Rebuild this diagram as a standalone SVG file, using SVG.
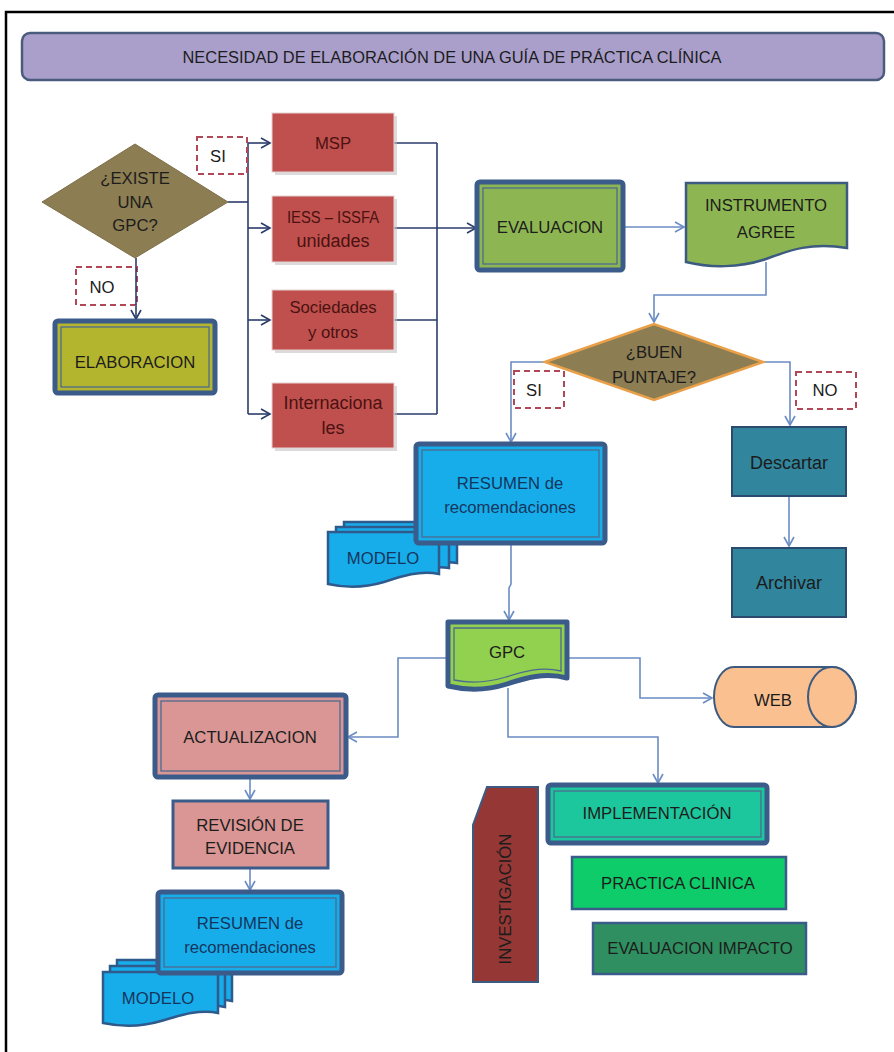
<svg xmlns="http://www.w3.org/2000/svg" width="894" height="1052" viewBox="0 0 894 1052">
<defs>
<style>
text{font-family:"Liberation Sans",Arial,sans-serif;font-size:16.7px;text-anchor:middle;fill:#1c1c1c}
.lc{font-size:18px}
.outer{stroke:#3b5b8b;stroke-width:5;stroke-linejoin:round}
.inner{fill:none;stroke:#4d6a8e;stroke-width:1.3}
.red{fill:#c0504d;stroke:#e8d2d2;stroke-width:1}
.redt{fill:#4a1212}
.shadow{fill:#bdbdbd;opacity:.55}
.dash{fill:#fff;stroke:#b04858;stroke-width:2;stroke-dasharray:6 4}
.navy{fill:none;stroke:#2b3d6b;stroke-width:1.6}
.lb{fill:none;stroke:#6b8cc4;stroke-width:1.6}
.blue{fill:#17adeb}
.bluet{fill:#15365c}
.doc{stroke:#2f5a8c;stroke-width:2.5}
</style>
<marker id="an" markerUnits="userSpaceOnUse" markerWidth="12" markerHeight="12" refX="10" refY="6" orient="auto"><path d="M1,1 L10,6 L1,11" fill="none" stroke="#2b3d6b" stroke-width="1.6"/></marker>
<marker id="al" markerUnits="userSpaceOnUse" markerWidth="12" markerHeight="12" refX="10" refY="6" orient="auto"><path d="M1,1 L10,6 L1,11" fill="none" stroke="#6b8cc4" stroke-width="1.6"/></marker>
</defs>
<rect x="0" y="0" width="894" height="1052" fill="#fff"/>
<path d="M6,1052 V12 H894" fill="none" stroke="#000" stroke-width="2.5"/>

<g id="title">
<rect x="22" y="33" width="862" height="47" rx="8" fill="#aa9fcb" stroke="#4b5b7d" stroke-width="2.5"/>
<text x="452" y="63" font-size="16.3" textLength="539" lengthAdjust="spacingAndGlyphs">NECESIDAD DE ELABORACIÓN DE UNA GUÍA DE PRÁCTICA CLÍNICA</text>
</g>

<g id="connectors">
<path class="navy" d="M228,202 H248"/>
<path class="navy" d="M248,143 V414"/>
<path class="navy" d="M248,143 H270" marker-end="url(#an)"/>
<path class="navy" d="M248,228 H270" marker-end="url(#an)"/>
<path class="navy" d="M248,320 H270" marker-end="url(#an)"/>
<path class="navy" d="M248,414 H270" marker-end="url(#an)"/>
<path class="navy" d="M136,258 V319" marker-end="url(#an)"/>
<path class="navy" d="M394,143 H437 M394,228 H437 M394,320 H437 M394,414 H437 M437,143 V414"/>
<path class="navy" d="M437,228 H476" stroke-width="2.4" marker-end="url(#an)"/>
<path class="lb" d="M623,227 H684" marker-end="url(#al)"/>
<path class="lb" d="M766,262 V295 H654 V322" marker-end="url(#al)"/>
<path class="lb" d="M545,362 H511 V442" marker-end="url(#al)"/>
<path class="lb" d="M763,362 H790 V425" marker-end="url(#al)"/>
<path class="lb" d="M789,496 V546" marker-end="url(#al)"/>
<path class="lb" d="M511,543 V584 L509,588 V620" marker-end="url(#al)"/>
<path class="lb" d="M448,658 H398 V737 H348" marker-end="url(#al)"/>
<path class="lb" d="M567,658 H640 V698 H712" marker-end="url(#al)"/>
<path class="lb" d="M508,688 V737 H658 V783" marker-end="url(#al)"/>
<path class="lb" d="M250,777 V799" marker-end="url(#al)"/>
<path class="lb" d="M250,868 V890" marker-end="url(#al)"/>
</g>

<g id="existe">
<polygon points="42,202 135,144 228,202 135,258" fill="#8c7d52" stroke="#7d6f48" stroke-width="1"/>
<text x="135" y="184" fill="#24241a">¿EXISTE</text>
<text x="135" y="208" fill="#24241a">UNA</text>
<text x="135" y="231" fill="#24241a">GPC?</text>
</g>

<g id="si1"><rect class="dash" x="197" y="137" width="50" height="37"/><text x="218" y="162">SI</text></g>
<g id="no1"><rect class="dash" x="76" y="267" width="61" height="38"/><text x="102" y="293">NO</text></g>
<path d="M136,267 V305" stroke="#2b3d6b" stroke-width="1.6"/>

<g id="elaboracion">
<rect class="outer" x="55" y="321" width="160" height="72" rx="3" fill="#b4b52e"/>
<rect class="inner" x="61" y="327" width="148" height="60"/>
<text x="135" y="368" fill="#2a2a10">ELABORACION</text>
</g>

<g id="msp">
<rect class="shadow" x="275" y="116" width="122" height="59"/>
<rect class="red" x="272" y="113" width="122" height="59"/>
<text class="redt" x="333" y="149">MSP</text>
</g>
<g id="iess">
<rect class="shadow" x="275" y="199" width="122" height="66"/>
<rect class="red" x="272" y="196" width="122" height="66"/>
<text class="redt" x="333" y="223" textLength="92" lengthAdjust="spacingAndGlyphs">IESS – ISSFA</text>
<text class="redt lc" x="333" y="247">unidades</text>
</g>
<g id="sociedades">
<rect class="shadow" x="275" y="293" width="122" height="60"/>
<rect class="red" x="272" y="290" width="122" height="60"/>
<text class="redt" x="333" y="313" font-size="17">Sociedades</text>
<text class="redt" x="333" y="338" font-size="17">y otros</text>
</g>
<g id="internacionales">
<rect class="shadow" x="275" y="386" width="122" height="65"/>
<rect class="red" x="272" y="383" width="122" height="65"/>
<text class="redt lc" x="333" y="409">Internaciona</text>
<text class="redt lc" x="333" y="434">les</text>
</g>

<g id="evaluacion">
<rect class="outer" x="477" y="182" width="146" height="88" rx="3" fill="#8db653"/>
<rect class="inner" x="483" y="188" width="134" height="76"/>
<text x="550" y="233" fill="#1c2a12">EVALUACION</text>
</g>

<g id="instrumento">
<path d="M686,183 H847 V248 C 812,242 790,250 766,259 C 740,268 710,268 686,262 Z" fill="#8db653" stroke="#3d5a80" stroke-width="2.5"/>
<text x="766" y="211" fill="#1c2a12">INSTRUMENTO</text>
<text x="766" y="238" fill="#1c2a12">AGREE</text>
</g>

<g id="buen">
<polygon points="545,362 654,324 763,362 654,400" fill="#8c7d52" stroke="#eaa048" stroke-width="2.5"/>
<text x="654" y="358" fill="#24241a">¿BUEN</text>
<text x="654" y="383" fill="#24241a">PUNTAJE?</text>
</g>
<g id="si2"><rect class="dash" x="514" y="371" width="50" height="37"/><text x="534" y="396">SI</text></g>
<g id="no2"><rect class="dash" x="796" y="372" width="60" height="37"/><text x="825" y="396">NO</text></g>

<g id="descartar">
<rect x="732" y="427" width="114" height="69" fill="#31859c" stroke="#2c4a6e" stroke-width="2"/>
<text class="lc" x="789" y="469" fill="#0f2330">Descartar</text>
</g>
<g id="archivar">
<rect x="732" y="548" width="114" height="69" fill="#31859c" stroke="#2c4a6e" stroke-width="2"/>
<text class="lc" x="789" y="589" fill="#0f2330">Archivar</text>
</g>

<g id="modelo1">
<path class="blue doc" d="M344,522 H457 V563 C 440,560 420,566 400,572 C 380,578 362,578 344,574 Z"/>
<path class="blue doc" d="M336,527 H449 V568 C 432,565 412,571 392,577 C 372,583 354,583 336,579 Z"/>
<path class="blue doc" d="M328,532 H439 V574 C 420,570 402,576 384,582 C 364,588 346,588 328,584 Z"/>
<text class="bluet" x="383" y="564">MODELO</text>
</g>
<g id="resumen1">
<rect class="outer blue" x="416" y="444" width="189" height="99" rx="3"/>
<rect class="inner" x="422" y="450" width="177" height="87" stroke="#2b4b7b"/>
<text class="bluet" x="510" y="489" font-size="17">RESUMEN de</text>
<text class="bluet" x="510" y="513" font-size="17.5">recomendaciones</text>
</g>

<g id="gpc">
<path class="outer" d="M448,622 H567 V678 C 545,672 525,678 507,684 C 485,691 465,690 448,686 Z" fill="#92d050"/>
<path class="inner" d="M454,628 H561 V671 C 540,666 522,672 506,677 C 486,683 468,683 454,680 Z"/>
<text x="507" y="658" fill="#1c2a12">GPC</text>
</g>

<g id="web">
<path d="M734,667 H832 A24,30 0 0 1 832,727 H734 A20,30 0 0 1 734,667 Z" fill="#fac08f" stroke="#3d5a80" stroke-width="2"/>
<ellipse cx="832" cy="697" rx="24" ry="30" fill="#fac08f" stroke="#3d5a80" stroke-width="2"/>
<text x="773" y="706" fill="#3a1a0a">WEB</text>
</g>

<g id="actualizacion">
<rect class="outer" x="155" y="695" width="191" height="82" rx="3" fill="#d99694"/>
<rect class="inner" x="161" y="701" width="179" height="70"/>
<text x="250" y="743" fill="#3a1a1a">ACTUALIZACION</text>
</g>

<g id="revision">
<rect x="173" y="801" width="155" height="67" fill="#d99694" stroke="#3b5b8b" stroke-width="3"/>
<text x="250" y="831" fill="#3a1a1a">REVISIÓN DE</text>
<text x="250" y="854" fill="#3a1a1a">EVIDENCIA</text>
</g>

<g id="modelo2">
<path class="blue doc" d="M117,960 H232 V1001 C 214,997 195,1003 175,1009 C 155,1015 136,1015 117,1011 Z"/>
<path class="blue doc" d="M110,966 H225 V1007 C 207,1003 188,1009 168,1015 C 148,1021 129,1021 110,1017 Z"/>
<path class="blue doc" d="M103,972 H218 V1013 C 200,1009 181,1015 161,1021 C 141,1027 122,1027 103,1023 Z"/>
<text class="bluet" x="158" y="1004">MODELO</text>
</g>
<g id="resumen2">
<rect class="outer blue" x="158" y="892" width="184" height="81" rx="3"/>
<rect class="inner" x="164" y="898" width="172" height="69" stroke="#2b4b7b"/>
<text class="bluet" x="250" y="929" font-size="17">RESUMEN de</text>
<text class="bluet" x="250" y="953" font-size="17.5">recomendaciones</text>
</g>

<g id="investigacion">
<polygon points="487,787 538,787 538,982 473,982 473,825" fill="#953735" stroke="#3d5a80" stroke-width="2"/>
<text x="0" y="0" transform="translate(511,899) rotate(-90)" fill="#3a1010" font-size="16.5">INVESTIGACIÓN</text>
</g>

<g id="implementacion">
<rect class="outer" x="548" y="785" width="219" height="58" rx="3" fill="#1dc79d"/>
<rect class="inner" x="554" y="791" width="207" height="46"/>
<text x="657" y="819" fill="#0f3325">IMPLEMENTACIÓN</text>
</g>
<g id="practica">
<rect x="572" y="857" width="214" height="52" fill="#0dcc69" stroke="#3b5b8b" stroke-width="2.5"/>
<text x="678" y="889" fill="#0f3325">PRACTICA CLINICA</text>
</g>
<g id="impacto">
<rect x="593" y="923" width="213" height="51" fill="#2f8f60" stroke="#3b5b8b" stroke-width="2.5"/>
<text x="700" y="954" fill="#0a2618">EVALUACION IMPACTO</text>
</g>
</svg>
